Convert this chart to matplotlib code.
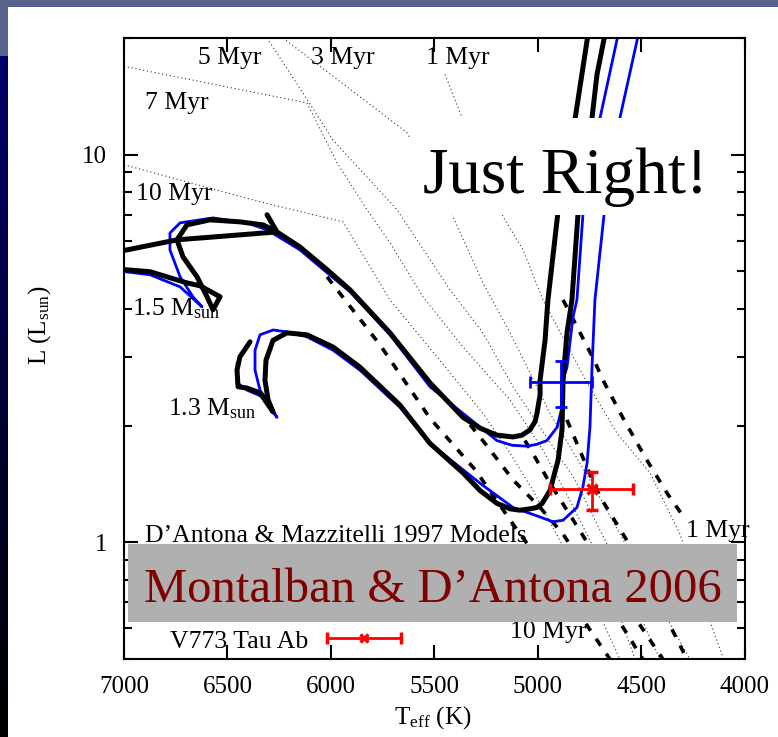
import numpy as np
import matplotlib.pyplot as plt
from matplotlib.patches import Rectangle
from matplotlib.ticker import FixedLocator, FixedFormatter, LogLocator, NullFormatter

plt.rcParams['font.family'] = 'Liberation Serif'
plt.rcParams['mathtext.fontset'] = 'custom'
plt.rcParams['mathtext.rm'] = 'Liberation Serif'
plt.rcParams['mathtext.it'] = 'Liberation Serif:italic'

# --- D'Antona & Mazzitelli 1997 tracks (Teff [K], L [Lsun]) ---
dm97_15_t = [4755, 4820, 4905, 4952, 4966, 4990, 4990, 5005, 5014, 5039, 5077, 5121,
             5198, 5280, 5362, 5522, 5715, 5908, 6019, 6150, 6261, 6328, 6440, 6585,
             6696, 6744, 6715, 6647, 6599, 6570, 6536, 6633, 6696, 6874, 6995, 7100]
dm97_15_l = [21.0, 12.46, 7.00, 4.22, 3.32, 2.62, 2.40, 2.15, 2.05, 1.95, 1.89, 1.87,
             1.89, 1.97, 2.10, 2.58, 3.47, 4.48, 5.05, 5.78, 6.32, 6.59, 6.71, 6.79,
             6.59, 6.03, 5.45, 4.84, 4.30, 3.98, 4.30, 4.59, 4.67, 4.99, 5.05, 5.10]
dm97_15_zams_t = [6309, 6261, 6744, 6986, 7100]
dm97_15_zams_l = [7.00, 6.32, 6.03, 5.68, 5.55]

dm97_13_t = [4672, 4715, 4739, 4807, 4836, 4860, 4879, 4884, 4903, 4942, 4980, 5005,
             5039, 5087, 5135, 5198, 5280, 5362, 5522, 5667, 5860, 5990, 6116, 6213,
             6280, 6314, 6319, 6304, 6280, 6343, 6406, 6449, 6454, 6440, 6391]
dm97_13_l = [21.0, 16.1, 12.46, 7.00, 4.22, 3.47, 2.62, 1.95, 1.63, 1.36, 1.26, 1.23,
             1.22, 1.21, 1.22, 1.26, 1.36, 1.51, 1.80, 2.26, 2.83, 3.19, 3.43, 3.47,
             3.32, 2.95, 2.62, 2.33, 2.17, 2.43, 2.50, 2.52, 2.78, 3.01, 3.29]

# --- Montalban & D'Antona 2006 tracks ---
md06_15_t = [4608, 4700, 4783, 4812, 4831, 4860, 4879, 4884, 4908, 4957, 5005, 5053,
             5126, 5198, 5362, 5522, 5715, 5908, 6019, 6150, 6309, 6406, 6570, 6729,
             6778, 6778, 6729, 6667, 6623, 6729, 6874, 6995, 7100]
md06_15_l = [21.0, 12.46, 7.00, 4.22, 3.81, 2.83, 2.62, 2.23, 1.98, 1.83, 1.79, 1.77,
             1.78, 1.83, 2.15, 2.52, 3.43, 4.43, 4.96, 5.68, 6.40, 6.67, 6.87, 6.67,
             6.28, 5.68, 4.84, 4.30, 4.05, 4.56, 4.90, 4.99, 5.00]

md06_13_t = [4510, 4604, 4681, 4725, 4739, 4749, 4763, 4783, 4812, 4879, 4928, 5005,
             5121, 5280, 5522, 5667, 5860, 5990, 6116, 6213, 6280, 6343, 6367, 6367,
             6343, 6295, 6261, 6328, 6406, 6454, 6454]
md06_13_l = [21.0, 12.46, 7.00, 4.22, 2.83, 1.98, 1.60, 1.39, 1.23, 1.14, 1.13, 1.17,
             1.23, 1.42, 1.80, 2.23, 2.78, 3.13, 3.39, 3.49, 3.53, 3.43, 3.13, 2.78,
             2.47, 2.26, 2.10, 2.37, 2.47, 2.58, 2.90]

# --- thick dashed isochrones ---
iso_dash = [
    ([6019, 5763, 5522, 5304, 5087, 4845, 4652], [4.84, 3.23, 2.09, 1.54, 1.05, 0.708, 0.499]),
    ([5328, 5256, 5121, 4990, 4879, 4700, 4493], [2.01, 1.80, 1.45, 1.23, 1.05, 0.751, 0.499]),
    ([5063, 5029, 4942, 4797, 4604, 4396], [1.83, 1.71, 1.42, 1.07, 0.730, 0.499]),
    ([4860, 4763, 4700, 4570, 4411, 4280], [2.07, 1.56, 1.31, 1.01, 0.688, 0.499]),
    ([4879, 4821, 4729, 4686, 4589, 4483, 4377, 4300],
     [4.22, 3.68, 2.95, 2.62, 2.09, 1.66, 1.34, 1.17]),
]

# --- thin dotted DM97 isochrones (10, 7, 5, 3, 1 Myr) ---
iso_dot = [
    ([7000, 6343, 5942, 5715, 5488, 5266, 5135, 5024, 4894, 4734, 4604],
     [9.42, 7.56, 6.71, 4.22, 3.01, 2.15, 1.70, 1.36, 1.01, 0.708, 0.499]),
    ([7000, 6116, 5971, 5826, 5715, 5556, 5362, 5135, 4976, 4845, 4700, 4531],
     [16.9, 13.6, 9.53, 7.21, 5.93, 4.30, 3.19, 2.33, 1.73, 1.28, 0.898, 0.499]),
    ([6309, 6116, 5990, 5681, 5585, 5425, 5266, 5121, 4990, 4821, 4628, 4411],
     [20.0, 13.9, 10.9, 7.21, 6.03, 4.48, 3.47, 2.52, 1.98, 1.45, 0.898, 0.499]),
    ([6232, 5633, 5411, 5266, 5135, 5005, 4942, 4749, 4507, 4266],
     [20.0, 11.4, 6.92, 4.67, 3.47, 2.52, 2.15, 1.45, 0.846, 0.499]),
    ([5449, 5367, 5169, 5072, 4976, 4763, 4618, 4459, 4314, 4184, 4106],
     [16.1, 12.46, 6.92, 5.68, 4.22, 2.58, 1.91, 1.51, 1.05, 0.656, 0.504]),
]

# --- observed components ---
blue_t, blue_terr, blue_l, blue_lerr = 4890, 150, 2.59, [[0.36], [0.35]]
red_t, red_terr, red_l, red_lerr = 4740, 200, 1.37, [[0.16], [0.15]]
v773_t, v773_terr, v773_l = 5840, 180, 0.568

xticks = [7000, 6500, 6000, 5500, 5000, 4500, 4000]

fig = plt.figure(figsize=(7.78, 7.37), dpi=100)

# slide background strips
fig.patches.append(Rectangle((0, 1 - 7/737), 1, 7/737, transform=fig.transFigure,
                             fc='#58628a', ec='none'))
fig.patches.append(Rectangle((0, 1 - 56/737), 8/778, 56/737, transform=fig.transFigure,
                             fc='#58628a', ec='none'))
side = fig.add_axes([0, 0, 8/778, 1 - 56/737])
grad = np.zeros((256, 1, 3))
grad[:, 0, 2] = np.linspace(0.42, 0.0, 256)
side.imshow(grad, aspect='auto', extent=[0, 1, 0, 1])
side.axis('off')

ax = fig.add_axes([124/778, 1 - 659/737, 621/778, 621/737])
ax.set_yscale('log')
ax.set_xlim(7000, 4000)
ax.set_ylim(0.5, 20)

track_kw = dict(solid_capstyle='round', solid_joinstyle='round')
for t, l in iso_dot:
    ax.plot(t, l, color='#333333', lw=0.8, dashes=(1, 2.5), zorder=1)
for t, l in iso_dash:
    ax.plot(t, l, color='black', lw=2.6, dashes=(2.3, 2.7), zorder=2)

ax.plot(dm97_15_t, dm97_15_l, color='black', lw=3.6, zorder=3, **track_kw)
ax.plot(dm97_15_zams_t, dm97_15_zams_l, color='black', lw=3.6, zorder=3, **track_kw)
ax.plot(dm97_13_t, dm97_13_l, color='black', lw=3.6, zorder=3, **track_kw)
ax.plot(md06_15_t, md06_15_l, color='#0000ff', lw=2.0, zorder=2.5, **track_kw)
ax.plot(md06_13_t, md06_13_l, color='#0000ff', lw=2.0, zorder=2.5, **track_kw)

ax.errorbar(blue_t, blue_l, xerr=blue_terr, yerr=blue_lerr, color='#0000ff',
            lw=2, capsize=4.5, capthick=2, zorder=4)
ax.errorbar(red_t, red_l, xerr=red_terr, yerr=red_lerr, color='#ff0000', marker='x',
            ms=7, mew=2.5, lw=2, capsize=4.5, capthick=2, zorder=4)
ax.errorbar(v773_t, v773_l, xerr=v773_terr, color='#ff0000', marker='x',
            ms=6, mew=2.5, lw=2, capsize=4.5, capthick=2, zorder=4)

lab = dict(fontsize=18.5, zorder=4)
ax.text(6488, 17.1, '5 Myr', ha='center', va='baseline', **lab)
ax.text(5942, 17.1, '3 Myr', ha='center', va='baseline', **lab)
ax.text(5386, 17.1, '1 Myr', ha='center', va='baseline', **lab)
ax.text(6744, 13.15, '7 Myr', ha='center', va='baseline', **lab)
ax.text(6758, 7.65, '10 Myr', ha='center', va='baseline', **lab)
ax.text(6961, 3.86, r'1.5 M$_{\mathrm{sun}}$', ha='left', va='baseline', **lab)
ax.text(6787, 2.13, r'1.3 M$_{\mathrm{sun}}$', ha='left', va='baseline', **lab)
ax.text(6899, 1.0, 'D\u2019Antona & Mazzitelli 1997 Models', ha='left', va='baseline', **lab)
ax.text(4285, 1.03, '1 Myr', ha='left', va='baseline', **lab)
ax.text(5135, 0.565, '10 Myr', ha='left', va='baseline', **lab)
ax.text(6778, 0.535, 'V773 Tau Ab', ha='left', va='baseline', **lab)

# overlay boxes
ax.add_patch(Rectangle((0.4605, 0.715), 0.4995, 0.156, transform=ax.transAxes,
                       fc='white', ec='none', zorder=5))
ax.text(4870, 7.98, 'Just Right!', fontsize=47, ha='center', va='baseline', zorder=6)
ax.add_patch(Rectangle((0.0064, 0.0596), 0.9806, 0.1254, transform=ax.transAxes,
                       fc='#b0b0b0', ec='none', zorder=5))
ax.text(5507, 0.70, 'Montalban & D\u2019Antona 2006', fontsize=35, color='#800000',
        ha='center', va='baseline', zorder=6)

ax.set_xticks(xticks)
ax.set_xticklabels([str(x) for x in xticks])
ax.yaxis.set_major_locator(FixedLocator([1, 10]))
ax.yaxis.set_major_formatter(FixedFormatter(['1', '10']))
ax.yaxis.set_minor_locator(LogLocator(subs=np.arange(2, 10)))
ax.yaxis.set_minor_formatter(NullFormatter())
ax.tick_params(which='both', direction='in', top=True, right=True, width=1.5,
               labelsize=18, pad=12)
ax.tick_params(which='major', length=10)
ax.tick_params(which='minor', length=6)
for s in ax.spines.values():
    s.set_linewidth(1.5)

fig.text(40/778, 1 - 325/737, r'L (L$_{\mathrm{sun}}$)', rotation=90, fontsize=18,
         ha='center', va='center')
fig.text(433/778, 1 - 718/737, r'T$_{\mathrm{eff}}$ (K)', fontsize=18,
         ha='center', va='center')

fig.savefig('out.png', dpi=100)
